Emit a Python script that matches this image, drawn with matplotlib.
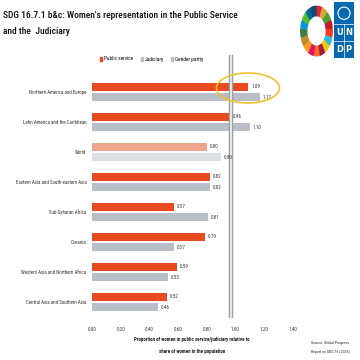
import logging
import matplotlib.pyplot as plt
from matplotlib.patches import Ellipse, Rectangle, Wedge, Patch
import numpy as np

regions = ['Northern America and Europe', 'Latin America and the Caribbean', 'World',
           'Eastern Asia and South-eastern Asia', 'Sub-Saharan Africa', 'Oceania',
           'Western Asia and Northern Africa', 'Central Asia and Southern Asia']
public = [1.09, 0.96, 0.80, 0.82, 0.57, 0.79, 0.59, 0.52]
judiciary = [1.17, 1.10, 0.90, 0.82, 0.81, 0.57, 0.53, 0.46]
parity = 0.97
xticks = [0.0, 0.2, 0.4, 0.6, 0.8, 1.0, 1.2, 1.4]

sdg_colors = ['#E5243B', '#DDA63A', '#4C9F38', '#C5192D', '#FF3A21', '#26BDE2',
              '#FCC30B', '#A21942', '#FD6925', '#DD1367', '#FD9D24', '#BF8B2E',
              '#3F7E44', '#0A97D9', '#56C02B', '#00689D', '#19486A']

logging.getLogger('matplotlib.font_manager').setLevel(logging.ERROR)

narrow = ['Roboto Condensed', 'Fira Sans Condensed', 'Encode Sans Condensed',
          'Liberation Sans', 'DejaVu Sans']
W = H = 360.0

fig = plt.figure(figsize=(3.6, 3.6), dpi=100)

def fx(px):
    return px / W

def fy(py):
    return 1 - py / H

# main axes: x=0 at px 92, 143.5 px per unit; rows 30 px apart
left, top, bottom = 92, 70, 320
xmax = (360 - 92) / 143.5
ax = fig.add_axes([fx(left), fy(bottom), 1 - fx(left), (bottom - top) / H])
ax.set_xlim(0, xmax)
ax.set_ylim((bottom - 92) / 30, -(92 - top) / 30)

y = np.arange(len(regions))
pub_c = ['#F0A48C' if r == 'World' else '#EA4A1F' for r in regions]
jud_c = ['#DDE1E5' if r == 'World' else '#B9BFC6' for r in regions]
ax.barh(y - 0.17, public, height=0.27, color=pub_c)
ax.barh(y + 0.17, judiciary, height=0.27, color=jud_c)

for i in range(len(regions)):
    ax.text(public[i] + 0.02, y[i] - 0.17, '%.2f' % public[i], va='center', ha='left',
            fontsize=3.6, family=narrow, color='#333333')
    ax.text(judiciary[i] + 0.02, y[i] + 0.17, '%.2f' % judiciary[i], va='center', ha='left',
            fontsize=3.6, family=narrow, color='#333333')

# gender parity line
ax.plot([parity, parity], [-1.23, 7.53], color='#8E999E', lw=3.2, clip_on=False,
        solid_capstyle='butt')
ax.plot([parity, parity], [-1.23, 7.53], color='#E2E7E7', lw=1.6, clip_on=False,
        solid_capstyle='butt')

ax.set_yticks(y)
ax.set_yticklabels(regions, fontsize=3.5, family=narrow, color='#333333')
ax.set_xticks(xticks)
ax.set_xticklabels(['%.2f' % v for v in xticks], fontsize=3.6, family=narrow, color='#333333')
ax.tick_params(axis='y', length=0, pad=4)
ax.tick_params(axis='x', length=0, pad=5)
for s in ax.spines.values():
    s.set_visible(False)

fig.text(fx(192), fy(340), 'Proportion of women in public service/judiciary relative to',
         ha='center', va='center', fontsize=3.6, family=narrow, weight='bold', color='#222222')
fig.text(fx(192), fy(351), 'share of women in the population',
         ha='center', va='center', fontsize=3.6, family=narrow, weight='bold', color='#222222')

handles = [Patch(color='#EA4A1F', label='Public service'),
           Patch(color='#B9BFC6', label='Judiciary'),
           Patch(color='#B9BFC6', label='Gender parity')]
fig.legend(handles=handles, loc='center', bbox_to_anchor=(fx(152), fy(59)), ncol=3,
           frameon=False, handlelength=0.35, handleheight=0.8,
           handletextpad=0.4, columnspacing=1.4, prop={'family': narrow, 'size': 3.8})

# title
fig.text(fx(3), fy(15), "SDG 16.7.1 b&c: Women's representation in the Public Service",
         ha='left', va='center', fontsize=6.8, family=narrow, weight='medium',
         color='#111111')
fig.text(fx(3), fy(31), "and the  Judiciary", ha='left', va='center', fontsize=6.8,
         family=narrow, weight='medium', color='#111111')

# highlight
fig.patches.append(Ellipse((fx(248), fy(88)), fx(63), 30 / H, transform=fig.transFigure,
                           fill=False, edgecolor='#F2C12E', lw=1.2))

# source
fig.text(fx(311), fy(343), 'Source: Global Progress', ha='left', va='center',
         fontsize=2.9, family=narrow, color='#333333')
fig.text(fx(311), fy(352), 'Report on SDG 16 (2025)', ha='left', va='center',
         fontsize=2.9, family=narrow, color='#333333')

# SDG wheel
wax = fig.add_axes([fx(300), fy(57), fx(33), 52 / H])
wax.set_xlim(-1.05, 1.05)
wax.set_ylim(-1.05, 1.05)
wax.axis('off')
step = 360 / len(sdg_colors)
for k, c in enumerate(sdg_colors):
    a0 = 90 - (k + 1) * step
    wax.add_patch(Wedge((0, 0), 1.0, a0 + 1.5, a0 + step - 1.5, width=0.38, color=c))

# UNDP logo
lax = fig.add_axes([fx(334), fy(58), fx(20), 56 / H])
lax.set_xlim(0, 1)
lax.set_ylim(0, 1)
lax.axis('off')
lax.add_patch(Rectangle((0, 0), 1, 1, color='#0468B1'))
lax.add_patch(Ellipse((0.5, 0.8), 0.6, 0.22, fill=False, edgecolor='white', lw=0.8))
for (tx, ty, ch) in [(0.27, 0.45, 'U'), (0.73, 0.45, 'N'), (0.27, 0.15, 'D'), (0.73, 0.15, 'P')]:
    lax.text(tx, ty, ch, color='white', fontsize=6, weight='bold', ha='center', va='center')
lax.plot([0, 1], [0.3, 0.3], color='white', lw=0.5)
lax.plot([0.5, 0.5], [0, 0.6], color='white', lw=0.5)
lax.plot([0, 1], [0.6, 0.6], color='white', lw=0.5)

fig.savefig('out.png', dpi=100)
